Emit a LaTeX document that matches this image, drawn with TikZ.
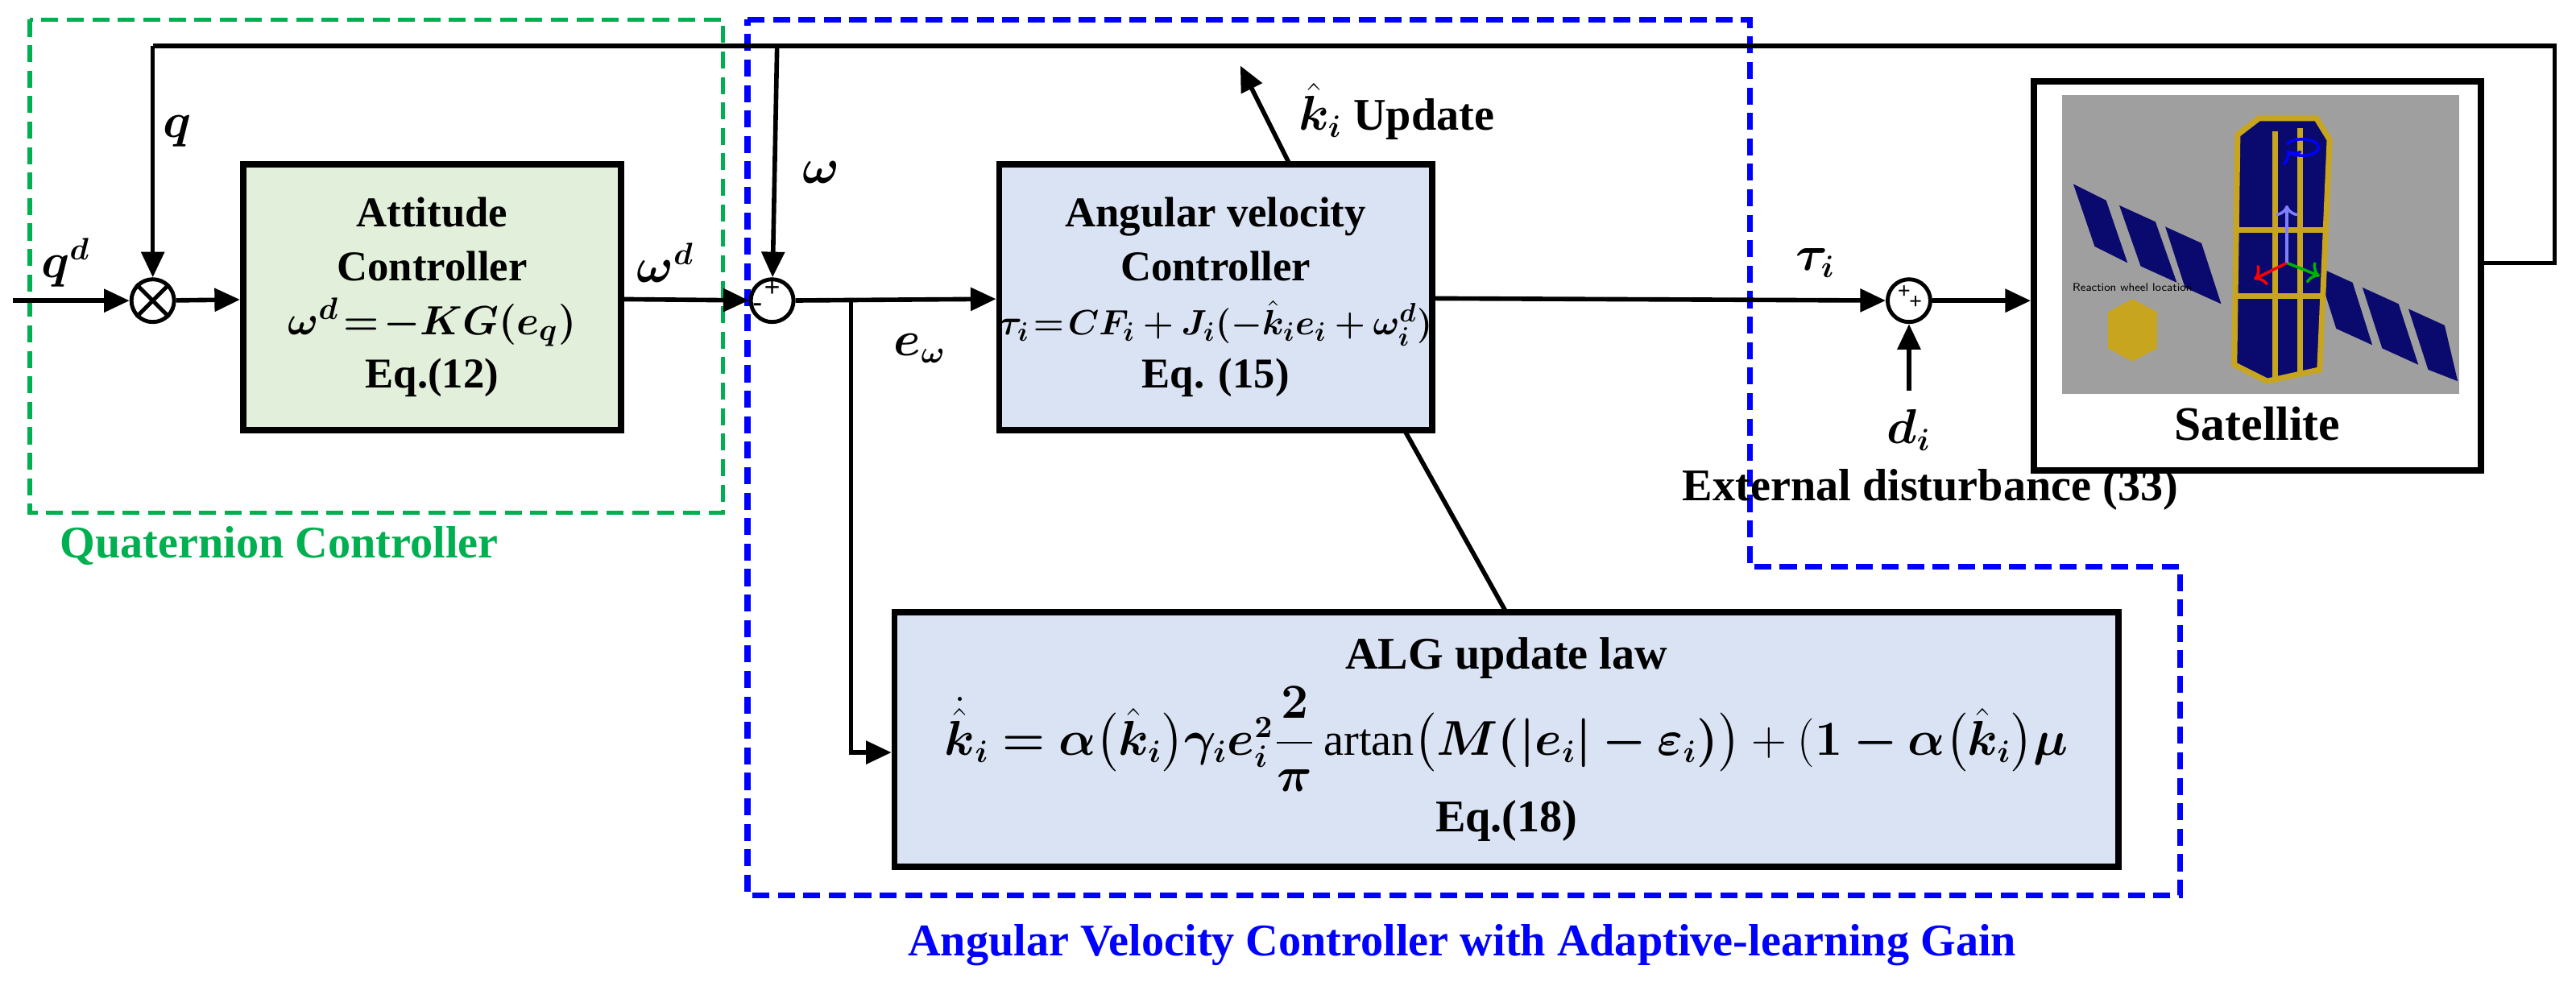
\documentclass[tikz,border=0pt]{standalone}
\usepackage{fontspec}
\setmainfont{Liberation Serif}
\usepackage{amsmath,bm,graphicx}
\usetikzlibrary{arrows.meta}
\definecolor{gfill}{RGB}{226,239,218}
\definecolor{bfill}{RGB}{218,227,243}
\definecolor{ggreen}{RGB}{0,176,80}
\definecolor{bblue}{RGB}{0,0,255}
\definecolor{navy}{RGB}{10,10,110}
\definecolor{gold}{RGB}{200,165,30}
\newlength\un \setlength\un{0.0204cm}
\begin{document}
\begin{tikzpicture}[x=0.0204cm,y=-0.0204cm,
  blk/.style={draw,line width=2.2pt,align=center,font=\fontsize{15}{19}\selectfont\bfseries,inner sep=0pt},
  sum/.style={draw,circle,line width=1.4pt,minimum size=26\un,inner sep=0pt},
  ar/.style={-{Triangle[length=9pt,width=8pt]},line width=1.6pt},
  ln/.style={line width=1.6pt},
  lab/.style={font=\fontsize{16}{19}\selectfont\bfseries},
  dgreen/.style={draw=ggreen,line width=1.6pt,dash pattern=on 6pt off 3pt},
  dblue/.style={draw=bblue,line width=2pt,dash pattern=on 6pt off 3pt}]
\useasboundingbox (0,0) rectangle (1568,600);
% dashed regions
\draw[dgreen] (18,12) rectangle (440,312);
\node[lab,text=ggreen] (ql) at (170,332) {Quaternion Controller};
\draw[dblue] (455,12) -- (1065,12) -- (1065,345) -- (1327,345) -- (1327,545) -- (455,545) -- cycle;
\node[lab,text=bblue] (al) at (890,575) {Angular Velocity Controller with Adaptive-learning Gain};
% blocks
\node[blk,fill=gfill,minimum width=230\un,minimum height=162\un] (att) at (263,181)
 {Attitude\\Controller\\$\bm{\omega^d\!=\!-KG(e_q)}$\\Eq.(12)};
\node[blk,fill=bfill,minimum width=236\un,minimum height=162\un] (avc) at (740,181)
 {Angular velocity\\Controller\\\scalebox{0.86}{$\bm{\tau_i\!=\!CF_i+J_i(-\hat{k}_ie_i+\omega_i^d)}$}\\Eq. (15)};
\node[blk,fill=bfill,minimum width=745\un,minimum height=155\un,font=\fontsize{16}{20}\selectfont\bfseries] (alg) at (917,450)
 {ALG update law\\[2pt]$\bm{\dot{\hat{k}}_i=\alpha\big(\hat{k}_i\big)\gamma_ie_i^2\dfrac{2}{\pi}}\,\mathrm{artan}\bm{\big(M(|e_i|-\varepsilon_i)\big)}+(\bm{1-\alpha\big(\hat{k}_i\big)\mu}$\\[2pt]Eq.(18)};
% satellite
\node[draw,line width=2.2pt,minimum width=272\un,minimum height=237\un,inner sep=0pt] (sat) at (1374,168) {};
\fill[gray!75] (1255,58) rectangle (1497,240);
\fill[navy] (1262,112) -- (1282,122) -- (1295,160) -- (1275,150) -- cycle;
\fill[navy] (1290,125) -- (1312,135) -- (1325,172) -- (1303,162) -- cycle;
\fill[navy] (1318,138) -- (1340,148) -- (1352,185) -- (1330,175) -- cycle;
\fill[navy] (1410,162) -- (1432,172) -- (1444,210) -- (1422,200) -- cycle;
\fill[navy] (1438,175) -- (1460,185) -- (1472,222) -- (1450,212) -- cycle;
\fill[navy] (1466,188) -- (1488,198) -- (1496,232) -- (1478,225) -- cycle;
\filldraw[fill=navy,draw=gold,line width=2pt] (1375,72) -- (1410,72) -- (1418,85) -- (1412,225) -- (1380,232) -- (1360,222) -- (1362,82) -- cycle;
\draw[gold,line width=2pt] (1385,80) -- (1385,230) (1400,78) -- (1400,228) (1362,140) -- (1416,140) (1362,180) -- (1414,180);
\draw[blue,line width=1pt,->] (1392,88) arc (200:520:10 and 5);
\draw[red,line width=1pt,->] (1392,160) -- (1372,170);
\draw[green!70!black,line width=1pt,->] (1392,160) -- (1412,168);
\draw[blue!50,line width=1pt,->] (1392,160) -- (1392,125);
\fill[gold] (1283,190) -- (1298,182) -- (1313,190) -- (1313,212) -- (1298,220) -- (1283,212) -- cycle;
\node[font=\fontsize{4}{5}\selectfont\sffamily] (rw) at (1298,175) {Reaction wheel location};
\node[font=\fontsize{17}{20}\selectfont\bfseries] (satl) at (1374,258) {Satellite};
% junctions
\node[sum] (mul) at (93,183) {};
\draw[line width=1.4pt] (mul.north west) -- (mul.south east) (mul.north east) -- (mul.south west);
\node[sum] (s1) at (470,183) {};
\node[font=\bfseries] at (470,176) {+};
\node[font=\bfseries] at (461,187) {-};
\node[sum] (s2) at (1162,183) {};
\node[font=\bfseries\footnotesize] at (1159,178) {+};
\node[font=\bfseries\footnotesize] at (1166,184) {+};
% coordinates
\coordinate (in) at (8,183);
\coordinate (t1) at (93,28);
\coordinate (t2) at (473,28);
\coordinate (t3) at (1555,28);
\coordinate (t4) at (1555,160);
\coordinate (br) at (518,183);
\coordinate (bd) at (518,458);
\coordinate (up) at (755,40);
\coordinate (dd) at (1162,238);
\coordinate (ab) at (855,262);
\coordinate (at) at (785,100);
% connectors
\draw[ar] (in) -- (mul);
\draw[ar] (mul) -- (att);
\draw[ar] (att) -- (s1);
\draw[ar] (s1) -- (avc);
\draw[ar] (avc) -- (s2);
\draw[ar] (s2) -- (sat.west |- s2);
\draw[ar] (dd) -- (s2);
\draw[ln] (sat.east |- t4) -- (t4) -- (t3) -- (t1);
\draw[ar] (t1) -- (mul);
\draw[ar] (t2) -- (s1);
\draw[ar] (br) -- (bd) -- (alg.west |- bd);
\draw[ln] (917,373) -- (ab);
\draw[ar] (at) -- (up);
% labels
\node[lab] (lqd) at (40,160) {$\bm{q^d}$};
\node[lab] (lq) at (108,80) {$\bm{q}$};
\node[lab] (lwd) at (405,160) {$\bm{\omega^d}$};
\node[lab] (lw) at (500,105) {$\bm{\omega}$};
\node[lab] (lew) at (560,212) {$\bm{e_\omega}$};
\node[lab] (lup) at (850,68) {$\bm{\hat{k}_i}$ Update};
\node[lab] (ltau) at (1105,160) {$\bm{\tau_i}$};
\node[lab] (ld) at (1162,262) {$\bm{d_i}$};
\node[lab] (lext) at (1175,298) {External disturbance (33)};
\end{tikzpicture}
\end{document}
